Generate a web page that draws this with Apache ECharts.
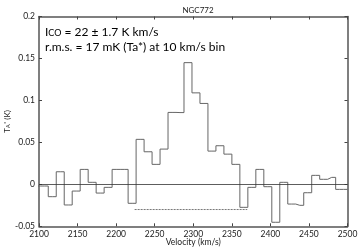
<!DOCTYPE html>
<html>
<head>
<meta charset="utf-8">
<script src="https://cdn.jsdelivr.net/npm/echarts@6/dist/echarts.min.js"></script>
<style>html,body{margin:0;padding:0;background:#fff;}#c{width:359px;height:249px;}</style>
</head>
<body>
<div id="c"></div>
<script>
// Bin centre velocities (km/s) and antenna temperature (K)
var velocities = [2096.4, 2106.8, 2117.2, 2127.5, 2137.9, 2148.2, 2158.6, 2168.9, 2179.3, 2189.6,
  2200.0, 2210.4, 2220.7, 2231.1, 2241.4, 2251.8, 2262.1, 2272.5, 2282.8, 2293.2,
  2303.5, 2313.9, 2324.2, 2334.6, 2344.9, 2355.3, 2365.6, 2376.0, 2386.3, 2396.7,
  2407.0, 2417.4, 2427.7, 2438.1, 2448.4, 2458.8, 2469.1, 2479.5, 2489.8, 2500.2];
var temperatures = [-0.002, -0.002, -0.0147, 0.015, -0.0246, -0.008, 0.0178, 0.0024, -0.0104, -0.0036,
  0.0178, 0.0178, -0.0226, 0.0536, 0.0388, 0.0238, 0.042, 0.0857, 0.0855, 0.145,
  0.109, 0.0964, 0.0396, 0.046, 0.036, 0.0238, -0.0274, -0.0036, 0.0178, -0.0028,
  -0.0452, 0.0024, -0.0235, -0.025, -0.010, 0.0107, 0.006, 0.0083, -0.006, -0.006];
// Line-width range marker
var rangeVelocity = [2224, 2370];
var rangeLevel = -0.030;
var titleText = 'NGC772';
var xLabel = 'Velocity (km/s)';
var line1 = ['I', 'CO', ' = 22 \u00b1 1.7 K km/s'];
var line2 = 'r.m.s. = 17 mK (Ta*) at 10 km/s bin';

var FONT = 'Lato';
var chart = echarts.init(document.getElementById('c'), null, {renderer: 'canvas'});
var spec = velocities.map(function (v, i) { return [v, temperatures[i]]; });
var range = rangeVelocity.map(function (v) { return [v, rangeLevel]; });

function axisCommon() {
  return {
    type: 'value',
    nameMoveOverlap: false,
    axisLine: {show: true, onZero: false, lineStyle: {color: '#555', width: 1.5}},
    axisTick: {show: true, inside: true, length: 3, lineStyle: {color: '#444', width: 1}},
    splitLine: {show: false}
  };
}

chart.setOption({
  animation: false,
  backgroundColor: '#fff',
  title: {
    text: titleText, left: 193, top: 1, textAlign: 'center',
    textStyle: {fontFamily: FONT, fontSize: 8, fontWeight: 'normal', color: '#222'}
  },
  grid: {left: 39, right: 11.5, top: 16.5, bottom: 22.7, containLabel: false, outerBoundsMode: 'none'},
  xAxis: [
    Object.assign(axisCommon(), {
      min: 2100, max: 2500, interval: 50, position: 'bottom',
      name: xLabel, nameLocation: 'middle', nameGap: 11,
      nameTextStyle: {fontFamily: FONT, fontSize: 8.5, color: '#222'},
      axisLabel: {margin: 3, fontFamily: FONT, fontSize: 8.5, color: '#222',
        formatter: function (v) { return String(v); }}
    }),
    Object.assign(axisCommon(), {
      min: 2100, max: 2500, interval: 50, position: 'top',
      axisLabel: {show: false}
    })
  ],
  yAxis: [
    Object.assign(axisCommon(), {
      min: -0.05, max: 0.2, interval: 0.05, position: 'left',
      name: 'T{sub|A}{sup|*} (K)', nameLocation: 'middle', nameGap: 28,
      nameTextStyle: {fontFamily: FONT, fontSize: 8, color: '#222',
        rich: {sub: {fontFamily: FONT, fontSize: 5.5, verticalAlign: 'bottom', color: '#222'},
               sup: {fontFamily: FONT, fontSize: 6, verticalAlign: 'top', color: '#222'}}},
      axisLabel: {margin: 4, fontFamily: FONT, fontSize: 8.5, color: '#222',
        formatter: function (v) { return String(Math.round(v * 1000) / 1000); }}
    }),
    Object.assign(axisCommon(), {
      min: -0.05, max: 0.2, interval: 0.05, position: 'right',
      axisLabel: {show: false}
    })
  ],
  series: [
    {
      type: 'line', xAxisIndex: 0, yAxisIndex: 0, data: spec, step: 'middle',
      showSymbol: false, symbol: 'none', clip: true,
      lineStyle: {color: '#666', width: 1},
      markLine: {
        silent: true, symbol: ['none', 'none'], label: {show: false},
        lineStyle: {color: '#333', width: 0.8, type: 'solid'},
        data: [{yAxis: 0}]
      },
      z: 3
    },
    {
      type: 'line', xAxisIndex: 0, yAxisIndex: 0, data: range,
      showSymbol: false, symbol: 'none',
      lineStyle: {color: '#555', width: 0.8, type: [2, 1]},
      z: 2
    }
  ],
  graphic: [
    {
      type: 'text', left: 45, top: 26,
      style: {
        text: '{a|' + line1[0] + '}{b|' + line1[1] + '}{a|' + line1[2] + '}\n{a|' + line2 + '}',
        rich: {
          a: {fontFamily: FONT, fontSize: 12, color: '#222', lineHeight: 15},
          b: {fontFamily: FONT, fontSize: 9, color: '#222', lineHeight: 15, padding: [2, 0, 0, 0]}
        }
      }
    }
  ]
});
</script>
</body>
</html>
